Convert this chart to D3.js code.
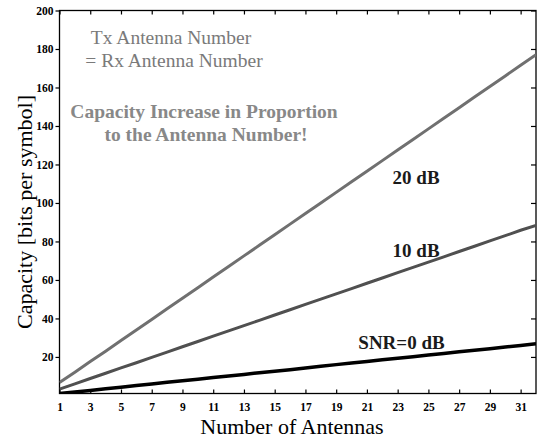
<!DOCTYPE html>
<html>
<head>
<meta charset="utf-8">
<script src="https://cdn.jsdelivr.net/npm/d3@7"></script>
<style>
  body { margin: 0; background: #fff; }
  svg { display: block; font-family: "Liberation Serif", "Times New Roman", serif; }
</style>
</head>
<body>
<svg width="537" height="441"></svg>
<script>
// antenna counts (Tx = Rx)
const antennas = [1, 2, 3, 4, 5, 6, 7, 8, 9, 10, 11, 12, 13, 14, 15, 16,
  17, 18, 19, 20, 21, 22, 23, 24, 25, 26, 27, 28, 29, 30, 31, 32];

// capacity in bits per symbol
const snr20 = [6.7, 12.1, 17.6, 23.0, 28.5, 34.0, 39.5, 45.0, 50.5, 56.0, 61.5,
  67.0, 72.5, 78.0, 83.5, 89.0, 94.5, 100.0, 105.5, 111.0, 116.5, 122.0,
  127.5, 133.0, 138.5, 144.0, 149.5, 155.0, 160.5, 166.0, 171.5, 177.0];
const snr10 = [3.3, 6.0, 8.8, 11.5, 14.3, 17.0, 19.8, 22.5, 25.3, 28.0, 30.8,
  33.5, 36.3, 39.0, 41.8, 44.5, 47.3, 50.0, 52.8, 55.5, 58.3, 61.0, 63.8,
  66.5, 69.3, 72.0, 74.8, 77.5, 80.3, 83.0, 85.8, 88.3];
const snr0 = [1.0, 1.8, 2.6, 3.5, 4.3, 5.1, 5.9, 6.8, 7.6, 8.4, 9.3, 10.1, 10.9,
  11.8, 12.6, 13.4, 14.3, 15.1, 16.0, 16.8, 17.6, 18.5, 19.3, 20.1, 21.0,
  21.8, 22.7, 23.5, 24.3, 25.2, 26.0, 26.9];

const xTicks = [1, 3, 5, 7, 9, 11, 13, 15, 17, 19, 21, 23, 25, 27, 29, 31];
const yTicks = [20, 40, 60, 80, 100, 120, 140, 160, 180, 200];

const svg = d3.select("svg");
const plotL = 59.5, plotR = 536, plotT = 10.5, plotB = 393.5;

const x = d3.scaleLinear().domain([1, 32]).range([plotL, plotR]);
const y = d3.scaleLinear().domain([1, 200]).range([plotB, plotT]);

svg.append("clipPath").attr("id", "clip")
  .append("rect")
  .attr("x", plotL).attr("y", plotT)
  .attr("width", plotR - plotL).attr("height", plotB - plotT);

// frame
svg.append("rect")
  .attr("x", plotL).attr("y", plotT)
  .attr("width", plotR - plotL).attr("height", plotB - plotT)
  .attr("fill", "none").attr("stroke", "#000").attr("stroke-width", 1.3);

// bottom axis (ticks inward)
const xAxis = svg.append("g").attr("transform", `translate(0,${plotB})`)
  .call(d3.axisBottom(x).tickValues(xTicks).tickSizeInner(-4).tickSizeOuter(0).tickPadding(9));
// top ticks
const xTop = svg.append("g").attr("transform", `translate(0,${plotT})`)
  .call(d3.axisTop(x).tickValues(xTicks).tickSizeInner(-4).tickSizeOuter(0).tickFormat(""));
// left axis (ticks outward)
const yAxis = svg.append("g").attr("transform", `translate(${plotL},0)`)
  .call(d3.axisLeft(y).tickValues(yTicks).tickSizeInner(4).tickSizeOuter(0).tickPadding(2));
// right ticks (inward)
const yRight = svg.append("g").attr("transform", `translate(${plotR},0)`)
  .call(d3.axisRight(y).tickValues(yTicks).tickSizeInner(-5).tickSizeOuter(0).tickFormat(""));

[xAxis, xTop, yAxis, yRight].forEach(g => {
  g.select(".domain").remove();
  g.selectAll(".tick line").attr("stroke", "#000").attr("stroke-width", 1.2);
  g.selectAll(".tick text")
    .attr("fill", "#000")
    .style("font-family", "Liberation Serif")
    .style("font-size", "11.5px")
    .style("font-weight", "bold");
});

// series
const series = [
  { values: snr20, color: "#707070", width: 3 },
  { values: snr10, color: "#505050", width: 3 },
  { values: snr0, color: "#000000", width: 3.5 }
];

const line = d3.line()
  .x((d, i) => x(antennas[i]))
  .y(d => y(d));

svg.append("g").attr("clip-path", "url(#clip)")
  .selectAll("path")
  .data(series)
  .join("path")
  .attr("d", d => line(d.values))
  .attr("fill", "none")
  .attr("stroke", d => d.color)
  .attr("stroke-width", d => d.width);

// series labels
const labels = [
  { text: "20 dB", n: 24.2, v: 110 },
  { text: "10 dB", n: 24.2, v: 72 },
  { text: "SNR=0 dB", n: 23.25, v: 24 }
];
svg.append("g").selectAll("text")
  .data(labels)
  .join("text")
  .attr("x", d => x(d.n))
  .attr("y", d => y(d.v))
  .attr("text-anchor", "middle")
  .attr("fill", "#1a1a1a")
  .style("font-size", "19px")
  .style("font-weight", "bold")
  .text(d => d.text);

// annotations
const note = svg.append("g").attr("fill", "#7a7a7a").attr("text-anchor", "middle");
note.append("text").attr("x", 171).attr("y", 44).style("font-size", "19.5px").text("Tx Antenna Number");
note.append("text").attr("x", 174).attr("y", 67).style("font-size", "19.5px").text("= Rx Antenna Number");
note.append("text").attr("x", 204).attr("y", 118).attr("fill", "#888")
  .style("font-size", "19.5px").style("font-weight", "bold").text("Capacity Increase in Proportion");
note.append("text").attr("x", 206).attr("y", 141).attr("fill", "#888")
  .style("font-size", "19.5px").style("font-weight", "bold").text("to the Antenna Number!");

// axis titles
svg.append("text")
  .attr("x", 292)
  .attr("y", 434)
  .attr("text-anchor", "middle")
  .style("font-size", "22px")
  .text("Number of Antennas");

svg.append("text")
  .attr("transform", `translate(32,212) rotate(-90)`)
  .attr("text-anchor", "middle")
  .style("font-size", "22px")
  .text("Capacity [bits per symbol]");
</script>
</body>
</html>
